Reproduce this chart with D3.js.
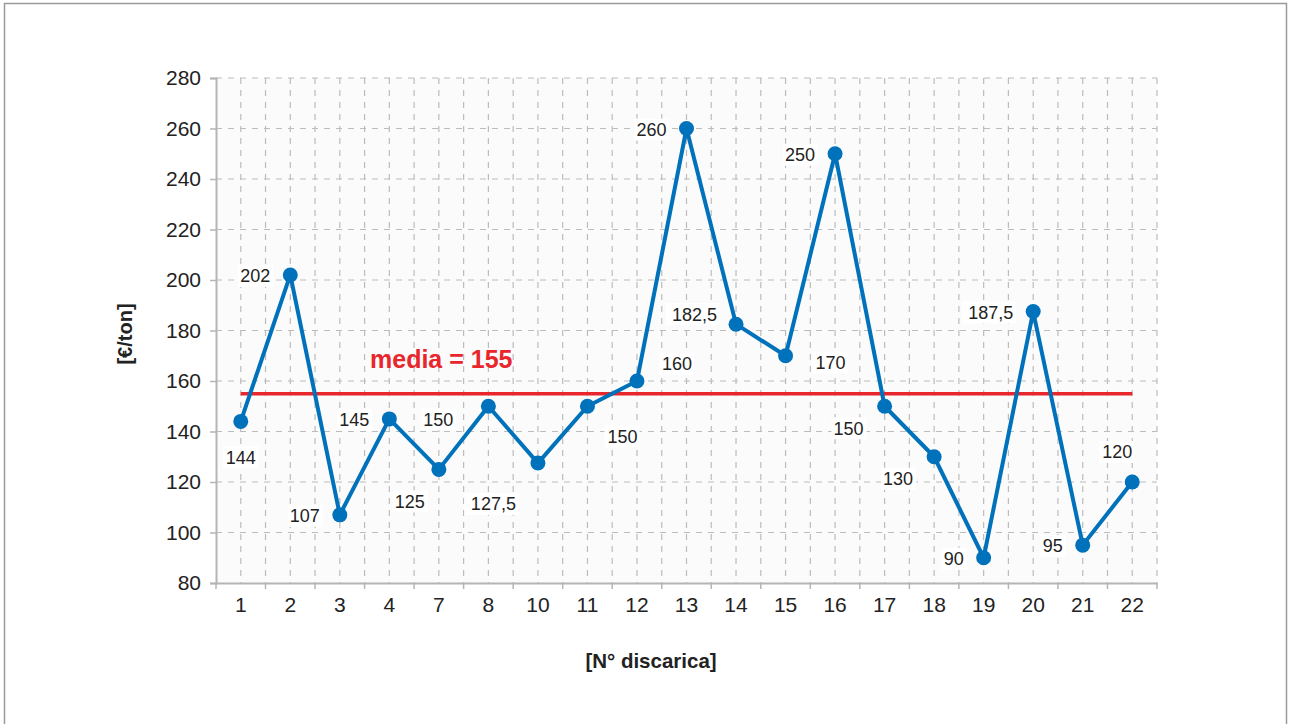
<!DOCTYPE html>
<html>
<head>
<meta charset="utf-8">
<script src="https://cdn.jsdelivr.net/npm/d3@7"></script>
<style>
  body { margin: 0; background: #fff; }
  svg { display: block; font-family: "Liberation Sans", Arial, sans-serif; }
</style>
</head>
<body>
<svg id="chart"></svg>
<script>
const W = 1290, H = 724;

// data
const categories = ['1', '2', '3', '4', '7', '8', '10', '11', '12', '13', '14', '15', '16', '17', '18', '19', '20', '21', '22'];
const values = [144, 202, 107, 145, 125, 150, 127.5, 150, 160, 260, 182.5, 170, 250, 150, 130, 90, 187.5, 95, 120];
const labels = ['144', '202', '107', '145', '125', '150', '127,5', '150', '160', '260', '182,5', '170', '250', '150', '130', '90', '187,5', '95', '120'];
// where each value label sits relative to its point
const labelSide = ['below', 'left', 'left', 'left', 'belowLeft', 'farLeft', 'belowLeftDeep', 'belowRight', 'aboveRight', 'left',
    'upLeft', 'right', 'left', 'lowLeft', 'lowLeft', 'left', 'left', 'left', 'aboveLeft'];
const yTicks = [80, 100, 120, 140, 160, 180, 200, 220, 240, 260, 280];
const media = 155;

const margin = { left: 216, right: W - 1157, top: 78, bottom: H - 583 };

const svg = d3.select('#chart')
    .attr('width', W)
    .attr('height', H);

// outer frame
svg.append('rect')
    .attr('x', 4.5).attr('y', 3.5)
    .attr('width', W - 8).attr('height', H)
    .attr('fill', '#fff')
    .attr('stroke', '#9a9a9a')
    .attr('stroke-width', 1.5);

const xScale = d3.scaleBand()
    .domain(categories)
    .range([margin.left, W - margin.right]);
const yScale = d3.scaleLinear()
    .domain([80, 280])
    .range([H - margin.bottom, margin.top]);

const x = d => xScale(d) + xScale.bandwidth() / 2;

// plot background
svg.append('rect')
    .attr('x', margin.left).attr('y', margin.top)
    .attr('width', W - margin.left - margin.right)
    .attr('height', H - margin.top - margin.bottom)
    .attr('fill', '#fbfbfb');

// grid
const grid = svg.append('g')
    .attr('stroke', '#bcbcbc')
    .attr('stroke-width', 1.2)
    .attr('stroke-dasharray', '6,6');

const vLines = [];
categories.forEach(c => { vLines.push(x(c)); vLines.push(xScale(c) + xScale.bandwidth()); });

grid.selectAll('line.v')
    .data(vLines)
    .enter()
    .append('line')
    .attr('x1', d => d).attr('x2', d => d)
    .attr('y1', margin.top).attr('y2', H - margin.bottom);

grid.selectAll('line.h')
    .data(yTicks.slice(1))
    .enter()
    .append('line')
    .attr('x1', margin.left).attr('x2', W - margin.right)
    .attr('y1', d => yScale(d)).attr('y2', d => yScale(d));

// axes
const yAxis = d3.axisLeft(yScale)
    .tickValues(yTicks)
    .tickSize(6)
    .tickPadding(9);

const gy = svg.append('g')
    .attr('transform', `translate(${margin.left},0)`)
    .call(yAxis);
gy.select('.domain').attr('stroke', '#b5b5b5').attr('stroke-width', 2);
gy.selectAll('.tick line').attr('stroke', '#b5b5b5').attr('stroke-width', 1.5);
gy.selectAll('.tick text')
    .attr('font-size', 21)
    .attr('fill', '#222')
    .style('font-family', '"Liberation Sans", Arial, sans-serif');

const xAxis = d3.axisBottom(xScale)
    .tickSize(0)
    .tickPadding(14);

const gx = svg.append('g')
    .attr('transform', `translate(0,${H - margin.bottom})`)
    .call(xAxis);
gx.select('.domain').attr('stroke', '#b5b5b5').attr('stroke-width', 2);
gx.selectAll('.tick text')
    .attr('font-size', 21)
    .attr('fill', '#222')
    .style('font-family', '"Liberation Sans", Arial, sans-serif');

// x tick marks at band boundaries
svg.append('g')
    .selectAll('line')
    .data([margin.left].concat(categories.map(c => xScale(c) + xScale.bandwidth())))
    .enter()
    .append('line')
    .attr('x1', d => d).attr('x2', d => d)
    .attr('y1', H - margin.bottom).attr('y2', H - margin.bottom + 6)
    .attr('stroke', '#b5b5b5')
    .attr('stroke-width', 1.5);

// media line
svg.append('line')
    .attr('x1', x(categories[0]))
    .attr('x2', x(categories[categories.length - 1]))
    .attr('y1', yScale(media)).attr('y2', yScale(media))
    .attr('stroke', '#e8262b')
    .attr('stroke-width', 3.5);

svg.append('text')
    .attr('x', 370)
    .attr('y', yScale(media) - 26)
    .attr('fill', '#e8262b')
    .attr('font-size', 25)
    .attr('font-weight', 'bold')
    .text(`media = ${media}`);

// series
const pts = categories.map((c, i) => ({ c, v: values[i], l: labels[i], s: labelSide[i] }));

const line = d3.line()
    .x(d => x(d.c))
    .y(d => yScale(d.v));

svg.append('path')
    .datum(pts)
    .attr('d', line)
    .attr('fill', 'none')
    .attr('stroke', '#0071bb')
    .attr('stroke-width', 4)
    .attr('stroke-linejoin', 'round');

svg.selectAll('circle.pt')
    .data(pts)
    .enter()
    .append('circle')
    .attr('cx', d => x(d.c))
    .attr('cy', d => yScale(d.v))
    .attr('r', 7.5)
    .attr('fill', '#0071bb');

// value labels: [anchor, dx, dy]
const placements = {
    below: ['middle', 0, 36],
    left: ['end', -20, 1],
    upLeft: ['end', -19, -10],
    lowLeft: ['end', -21, 22],
    farLeft: ['end', -35, 13],
    belowLeft: ['end', -14, 32],
    belowLeftDeep: ['end', -22, 41],
    belowRight: ['start', 20, 30],
    aboveRight: ['start', 25, -17],
    right: ['start', 30, 7],
    aboveLeft: ['start', -30, -30]
};

const lg = svg.append('g')
    .selectAll('g')
    .data(pts)
    .enter()
    .append('g')
    .attr('transform', d => {
        const p = placements[d.s];
        return `translate(${x(d.c) + p[1]},${yScale(d.v) + p[2]})`;
    });

const fs = 18;
lg.append('rect')
    .attr('x', d => {
        const wd = d.l.length * fs * 0.54;
        const a = placements[d.s][0];
        return (a === 'end' ? -wd : a === 'middle' ? -wd / 2 : 0) - 3;
    })
    .attr('y', -11)
    .attr('width', d => d.l.length * fs * 0.54 + 6)
    .attr('height', 22)
    .attr('fill', '#fff');

lg.append('text')
    .attr('text-anchor', d => placements[d.s][0])
    .attr('dy', '0.35em')
    .attr('font-size', fs)
    .attr('fill', '#222')
    .text(d => d.l);

// axis titles
svg.append('text')
    .attr('x', 651)
    .attr('y', 668)
    .attr('text-anchor', 'middle')
    .attr('font-size', 20.5)
    .attr('font-weight', 'bold')
    .attr('fill', '#222')
    .text('[N° discarica]');

svg.append('text')
    .attr('transform', 'translate(132,334) rotate(-90)')
    .attr('text-anchor', 'middle')
    .attr('font-size', 20)
    .attr('font-weight', 'bold')
    .attr('fill', '#222')
    .text('[€/ton]');
</script>
</body>
</html>
